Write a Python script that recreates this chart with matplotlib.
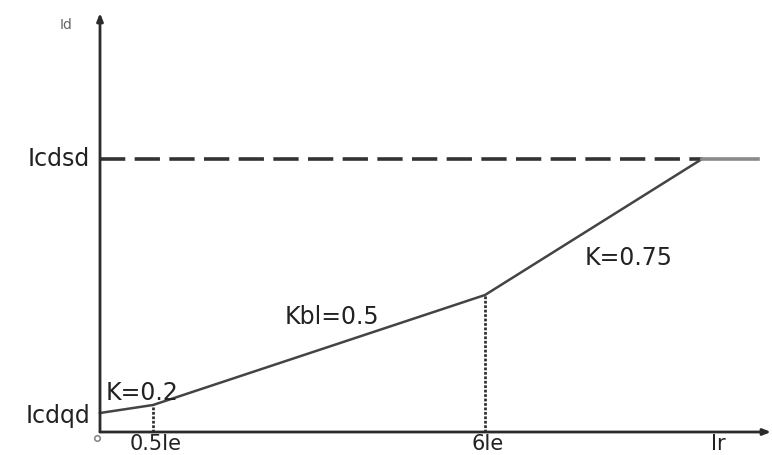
import matplotlib
matplotlib.use("Agg")
import matplotlib.pyplot as plt

# Ratio-restraint characteristic: break points (x in Ir units, y in Id units)
curve_x = [0.0, 0.53, 3.85, 6.02, 6.58]
curve_y = [0.19, 0.27, 1.37, 2.73, 2.73]
icdsd_level = 2.73
x_tick_labels = ["0.5Ie", "6Ie"]
x_tick_pos = [0.53, 3.85]
y_tick_labels = ["Icdsd", "Icdqd"]
y_tick_pos = [2.73, 0.16]
slope_labels = ["K=0.2", "Kbl=0.5", "K=0.75"]
slope_pos = [(0.06, 0.39), (1.85, 1.15), (4.85, 1.74)]

W, H = 772, 455
fig = plt.figure(figsize=(W / 100, H / 100), dpi=100)
ax = fig.add_axes([100 / W, 23 / H, 672 / W, 432 / H])
ax.set_xlim(0, 6.72)
ax.set_ylim(0, 4.32)
ax.axis("off")

axis_col = "#2b2b2b"
font = ["DejaVu Sans"]
fs = 17

# axes with arrowheads
ax.annotate("", xy=(6.71, 0), xytext=(0, 0), annotation_clip=False,
            arrowprops=dict(arrowstyle="-|>,head_length=0.45,head_width=0.18",
                            color=axis_col, lw=2.0, shrinkA=0, shrinkB=0))
ax.annotate("", xy=(0, 4.19), xytext=(0, 0), annotation_clip=False,
            arrowprops=dict(arrowstyle="-|>,head_length=0.45,head_width=0.18",
                            color=axis_col, lw=2.0, shrinkA=0, shrinkB=0))

# differential current setting (dashed)
ax.plot([0, curve_x[3]], [icdsd_level, icdsd_level], color="#333333", lw=2.6,
        dashes=(7, 2.6), solid_capstyle="butt", clip_on=False)

# restraint curve
ax.plot(curve_x[:4], curve_y[:4], color="#444444", lw=1.8, clip_on=False)
ax.plot(curve_x[3:], curve_y[3:], color="#8a8a8a", lw=2.6, clip_on=False)

# vertical markers at the break points
for xp, yp in zip(curve_x[1:3], curve_y[1:3]):
    ax.plot([xp, xp], [0, yp], color="#333333", lw=2.0,
            linestyle=(0, (1, 0.6)), clip_on=False)

# labels
ax.text(-0.34, 4.07, "Id", fontsize=10, color="#666666", family=font,
        ha="center", va="center")
for lbl, yp in zip(y_tick_labels, y_tick_pos):
    ax.text(-0.1, yp, lbl, fontsize=fs, color="#222222", family=font,
            ha="right", va="center")
for lbl, xp in zip(x_tick_labels, x_tick_pos):
    ax.text(xp + 0.03, -0.18, lbl, fontsize=15, color="#222222", family=font,
            ha="center", va="baseline")
ax.text(6.18, -0.18, "Ir", fontsize=15, color="#222222", family=font,
        ha="center", va="baseline")
for lbl, (xp, yp) in zip(slope_labels, slope_pos):
    ax.text(xp, yp, lbl, fontsize=fs, color="#222222", family=font,
            ha="left", va="center")

# origin marker
ax.plot([-0.03], [-0.06], marker="o", ms=4, mfc="white", mec="#888888",
        mew=1.2, clip_on=False)

fig.savefig("out.png", dpi=100)
